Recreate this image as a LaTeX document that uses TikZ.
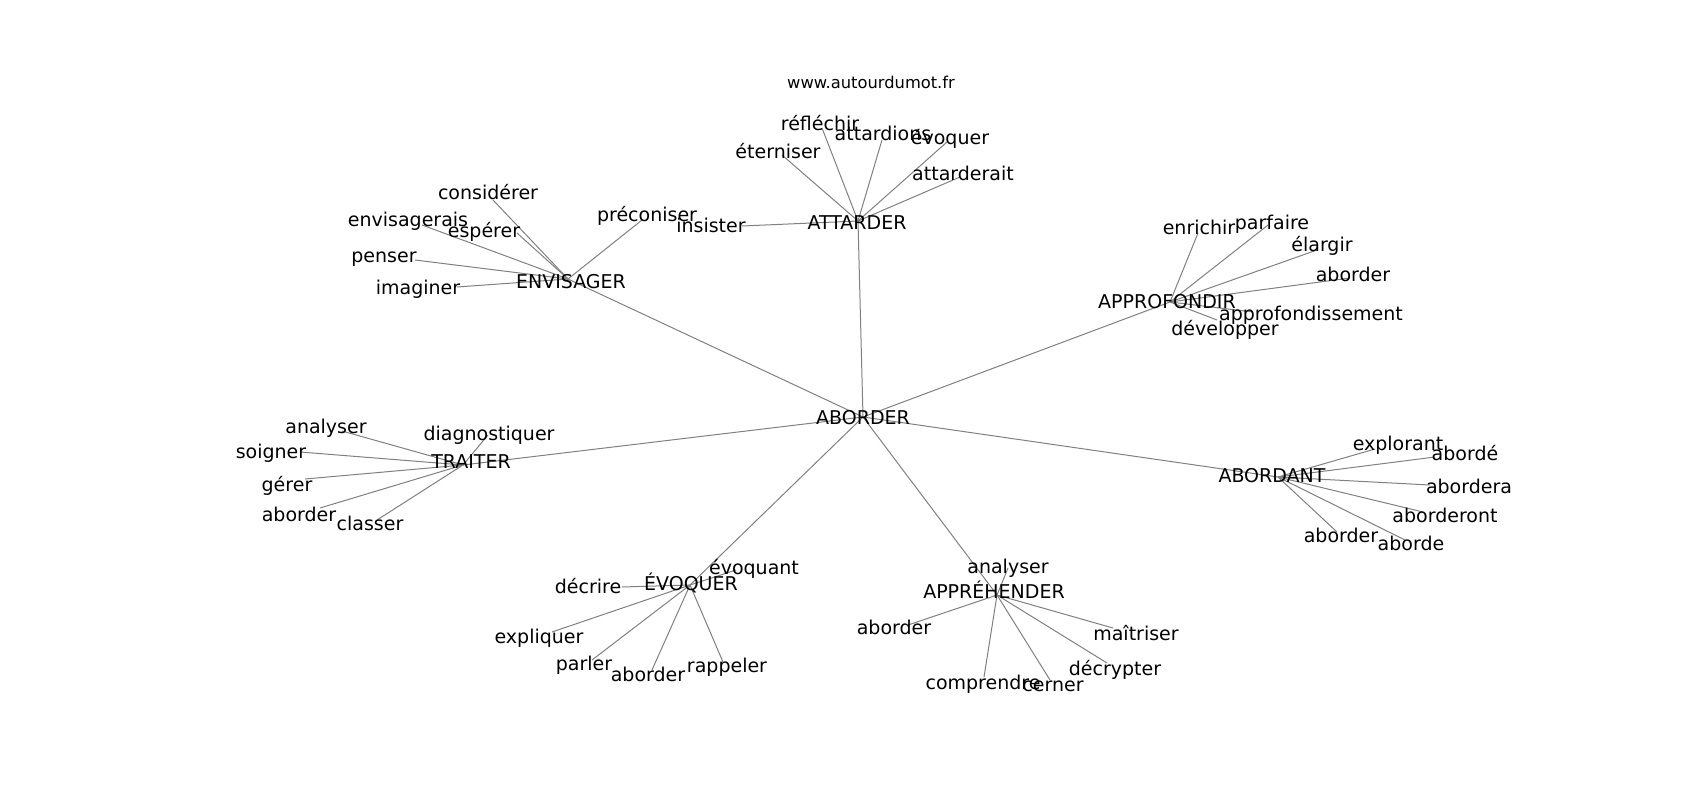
\documentclass[tikz,border=0pt]{standalone}
\usepackage{fontspec}
\setmainfont{DejaVu Sans}
\begin{document}
\begin{tikzpicture}
      [x=1pt, y=-1pt,
       word/.style={inner sep=0pt, text height=0.76em, text depth=0.24em,
                    yshift=-4.5pt, font=\fontsize{19}{22}\selectfont},
       edge/.style={draw=gray, line width=1pt}]
      \useasboundingbox (0,0) rectangle (1700,800);

      % graph vertices
      \coordinate (v-aborder) at (863,417);
      \coordinate (v-envisager) at (568,279);
      \coordinate (v-attarder) at (858,221);
      \coordinate (v-approfondir) at (1170,302);
      \coordinate (v-traiter) at (463,465);
      \coordinate (v-abordant) at (1278,477);
      \coordinate (v-evoquer) at (690,585);
      \coordinate (v-apprehender) at (997,595);

      \coordinate (v-considerer) at (493,200);
      \coordinate (v-envisagerais) at (422,225);
      \coordinate (v-esperer) at (517,233);
      \coordinate (v-penser) at (415,260);
      \coordinate (v-imaginer) at (457,287);
      \coordinate (v-preconiser) at (642,220);

      \coordinate (v-insister) at (742,226);
      \coordinate (v-eterniser) at (782,155);
      \coordinate (v-reflechir) at (822,128);
      \coordinate (v-attardions) at (882,140);
      \coordinate (v-evoquer2) at (947,142);
      \coordinate (v-attarderait) at (960,177);

      \coordinate (v-enrichir) at (1198,233);
      \coordinate (v-parfaire) at (1268,225);
      \coordinate (v-elargir) at (1317,250);
      \coordinate (v-aborder2) at (1350,278);
      \coordinate (v-approfondissement) at (1253,312);
      \coordinate (v-developper) at (1217,320);

      \coordinate (v-analyser) at (342,431);
      \coordinate (v-soigner) at (300,452);
      \coordinate (v-gerer) at (305,479);
      \coordinate (v-aborder3) at (320,508);
      \coordinate (v-classer) at (377,520);
      \coordinate (v-diagnostiquer) at (488,435);

      \coordinate (v-explorant) at (1375,449);
      \coordinate (v-aborde2) at (1435,457);
      \coordinate (v-abordera) at (1430,485);
      \coordinate (v-aborderont) at (1423,512);
      \coordinate (v-aborder4) at (1337,532);
      \coordinate (v-aborde) at (1405,540);

      \coordinate (v-evoquant) at (736,570);
      \coordinate (v-decrire) at (622,587);
      \coordinate (v-expliquer) at (552,632);
      \coordinate (v-parler) at (592,660);
      \coordinate (v-aborder5) at (652,670);
      \coordinate (v-rappeler) at (723,662);

      \coordinate (v-analyser2) at (1008,568);
      \coordinate (v-aborder6) at (908,625);
      \coordinate (v-comprendre) at (984,677);
      \coordinate (v-cerner) at (1050,680);
      \coordinate (v-decrypter) at (1107,663);
      \coordinate (v-maitriser) at (1113,628);

      % edges
      \foreach \a/\b in {aborder/envisager, aborder/attarder, aborder/approfondir,
          aborder/traiter, aborder/abordant, aborder/evoquer, aborder/apprehender,
          envisager/considerer, envisager/envisagerais, envisager/esperer,
          envisager/penser, envisager/imaginer, envisager/preconiser,
          attarder/insister, attarder/eterniser, attarder/reflechir,
          attarder/attardions, attarder/evoquer2, attarder/attarderait,
          approfondir/enrichir, approfondir/parfaire, approfondir/elargir,
          approfondir/aborder2, approfondir/approfondissement, approfondir/developper,
          traiter/analyser, traiter/soigner, traiter/gerer,
          traiter/aborder3, traiter/classer, traiter/diagnostiquer,
          abordant/explorant, abordant/aborde2, abordant/abordera,
          abordant/aborderont, abordant/aborder4, abordant/aborde,
          evoquer/evoquant, evoquer/decrire, evoquer/expliquer,
          evoquer/parler, evoquer/aborder5, evoquer/rappeler,
          apprehender/analyser2, apprehender/aborder6, apprehender/comprendre,
          apprehender/cerner, apprehender/decrypter, apprehender/maitriser}
        \draw[edge] (v-\a) -- (v-\b);

      % labels
      \node[font=\fontsize{16.3}{19}\selectfont] (site) at (871,82) {www.autourdumot.fr};

      \node[word] (aborder) at (v-aborder) {ABORDER};
      \node[word] (envisager) at (571,281) {ENVISAGER};
      \node[word] (attarder) at (857,222) {ATTARDER};
      \node[word] (approfondir) at (1167,301) {APPROFONDIR};
      \node[word] (traiter) at (471,461) {TRAITER};
      \node[word] (abordant) at (1272,475) {ABORDANT};
      \node[word] (evoquer) at (691,583) {ÉVOQUER};
      \node[word] (apprehender) at (994,591) {APPRÉHENDER};

      \node[word] (considerer) at (488,192) {considérer};
      \node[word] (envisagerais) at (408,219) {envisagerais};
      \node[word] (esperer) at (484,230) {espérer};
      \node[word] (penser) at (384,255) {penser};
      \node[word] (imaginer) at (418,287) {imaginer};
      \node[word] (preconiser) at (647,214) {préconiser};

      \node[word] (insister) at (711,225) {insister};
      \node[word] (eterniser) at (778,151) {éterniser};
      \node[word] (reflechir) at (820,123) {réfléchir};
      \node[word] (attardions) at (883,133) {attardions};
      \node[word] (evoquer2) at (950,137) {évoquer};
      \node[word] (attarderait) at (963,173) {attarderait};

      \node[word] (enrichir) at (1199,227) {enrichir};
      \node[word] (parfaire) at (1272,222) {parfaire};
      \node[word] (elargir) at (1322,244) {élargir};
      \node[word] (aborder2) at (1353,274) {aborder};
      \node[word] (approfondissement) at (1311,313) {approfondissement};
      \node[word] (developper) at (1225,328) {développer};

      \node[word] (analyser) at (326,426) {analyser};
      \node[word] (soigner) at (271,451) {soigner};
      \node[word] (gerer) at (287,484) {gérer};
      \node[word] (aborder3) at (299,514) {aborder};
      \node[word] (classer) at (370,523) {classer};
      \node[word] (diagnostiquer) at (489,433) {diagnostiquer};

      \node[word] (explorant) at (1398,443) {explorant};
      \node[word] (aborde2) at (1465,453) {abordé};
      \node[word] (abordera) at (1469,486) {abordera};
      \node[word] (aborderont) at (1445,515) {aborderont};
      \node[word] (aborder4) at (1341,535) {aborder};
      \node[word] (aborde) at (1411,543) {aborde};

      \node[word] (evoquant) at (754,567) {évoquant};
      \node[word] (decrire) at (588,586) {décrire};
      \node[word] (expliquer) at (539,636) {expliquer};
      \node[word] (parler) at (584,663) {parler};
      \node[word] (aborder5) at (648,674) {aborder};
      \node[word] (rappeler) at (727,665) {rappeler};

      \node[word] (analyser2) at (1008,566) {analyser};
      \node[word] (aborder6) at (894,627) {aborder};
      \node[word] (comprendre) at (983,682) {comprendre};
      \node[word] (cerner) at (1053,684) {cerner};
      \node[word] (decrypter) at (1115,668) {décrypter};
      \node[word] (maitriser) at (1136,633) {maîtriser};
    \end{tikzpicture}
\end{document}
